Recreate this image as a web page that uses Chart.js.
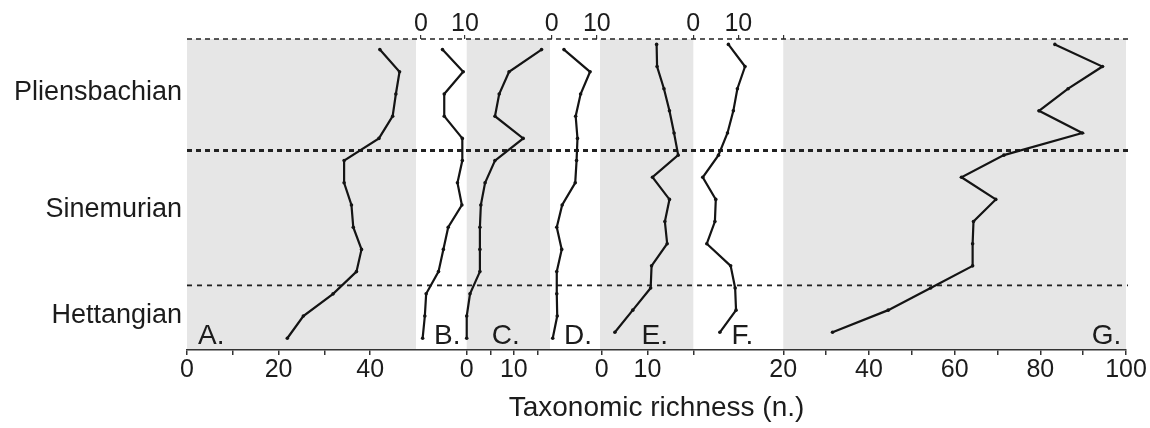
<!DOCTYPE html>
<html>
<head>
<meta charset="utf-8">
<script src="https://cdn.jsdelivr.net/npm/chart.js@4.4.1/dist/chart.umd.min.js"></script>
<style>
  html, body { margin: 0; padding: 0; background: #ffffff; }
  canvas { display: block; }
</style>
</head>
<body>
<canvas id="chart" width="1150" height="428"></canvas>
<script>
// Stages, youngest at the top of the column
const stages = ['Pliensbachian', 'Sinemurian', 'Hettangian'];

// Sampling levels, counted from the top of the section
const levels = [0, 1, 2, 3, 4, 5, 6, 7, 8, 9, 10, 11, 12, 13];

// Taxonomic richness per level for each group
const richnessA = [42.1, 46.4, 45.6, 44.9, 41.9, 34.3, 34.3, 35.9, 36.3, 38.1, 37.0, 31.9, 25.4, 21.9];
const richnessB = [4.9, 9.6, 5.3, 5.3, 9.4, 9.4, 8.3, 9.3, 6.2, 5.1, 4.0, 1.2, 0.9, 0.4];
const richnessC = [15.9, 9.0, 6.9, 6.0, 12.0, 6.0, 3.9, 3.0, 2.8, 2.8, 2.8, 0.7, 0.0, 0.0];
const richnessD = [2.7, 8.5, 6.4, 5.3, 5.7, 5.5, 5.2, 2.3, 1.1, 2.2, 1.1, 1.1, 1.2, 0.2];
const richnessE = [12.0, 12.1, 13.6, 14.8, 15.8, 16.7, 11.1, 14.8, 13.8, 14.3, 10.9, 10.7, 6.8, 2.9];
const richnessF = [7.8, 11.5, 9.8, 8.9, 7.6, 5.6, 2.1, 5.0, 4.8, 3.0, 8.3, 9.3, 9.5, 5.9];
const richnessG = [83.4, 94.5, 86.5, 79.7, 89.8, 71.5, 61.6, 69.6, 64.4, 64.2, 64.2, 54.4, 44.5, 31.5];

// Axis ticks of each panel and the text printed under / over them
const ticksA = [0, 10, 20, 30, 40];
const tickTextA = ['0', '', '20', '', '40'];
const ticksB = [0, 10];
const tickTextB = ['0', '10'];
const ticksC = [0, 5, 10, 15];
const tickTextC = ['0', '', '10', ''];
const ticksD = [0, 10];
const tickTextD = ['0', '10'];
const ticksE = [0, 10, 20];
const tickTextE = ['0', '10', ''];
const ticksF = [0, 10, 20];
const tickTextF = ['0', '10', ''];
const ticksG = [20, 30, 40, 50, 60, 70, 80, 90, 100];
const tickTextG = ['20', '', '40', '', '60', '', '80', '', '100'];

const panelLetters = ['A.', 'B.', 'C.', 'D.', 'E.', 'F.', 'G.'];

// Panel strips: share of the plot width they occupy and the value range each one shows
const panels = [
  { key: 'A', values: richnessA, from: 0.0000, to: 0.2439, min: 0,     max: 50,   shaded: true,  yAxis: 'y',  side: 'bottom', ticks: ticksA, text: tickTextA, letterAt: 2.4 },
  { key: 'B', values: richnessB, from: 0.2439, to: 0.2979, min: -1.1,  max: 10.4, shaded: false, yAxis: 'y',  side: 'top',    ticks: ticksB, text: tickTextB, letterAt: 3.0 },
  { key: 'C', values: richnessC, from: 0.2979, to: 0.3866, min: 0,     max: 17.7, shaded: true,  yAxis: 'y',  side: 'bottom', ticks: ticksC, text: tickTextC, letterAt: 5.3 },
  { key: 'D', values: richnessD, from: 0.3866, to: 0.4398, min: -0.4,  max: 10.7, shaded: false, yAxis: 'y',  side: 'top',    ticks: ticksD, text: tickTextD, letterAt: 2.7 },
  { key: 'E', values: richnessE, from: 0.4398, to: 0.5392, min: -0.35, max: 20,   shaded: true,  yAxis: 'y2', side: 'bottom', ticks: ticksE, text: tickTextE, letterAt: 8.7 },
  { key: 'F', values: richnessF, from: 0.5392, to: 0.6350, min: 0,     max: 20,   shaded: false, yAxis: 'y2', side: 'top',    ticks: ticksF, text: tickTextF, letterAt: 8.5 },
  { key: 'G', values: richnessG, from: 0.6350, to: 1.0000, min: 20,    max: 100,  shaded: true,  yAxis: 'y2', side: 'bottom', ticks: ticksG, text: tickTextG, letterAt: 92 }
];

const FONT = "'Liberation Sans', Arial, Helvetica, sans-serif";
const INK = '#1c1c1c';
const SHADE = '#e6e6e6';

// Position of a panel value along the shared 0..1 strip axis
function share(p, v) {
  return p.from + (v - p.min) / (p.max - p.min) * (p.to - p.from);
}

// Collect the tick marks of all panels onto the shared bottom / top axes
const bottomTicks = [], bottomText = [], topTicks = [], topText = [];
panels.forEach(p => {
  p.ticks.forEach((v, i) => {
    if (p.side === 'bottom') { bottomTicks.push(share(p, v)); bottomText.push(p.text[i]); }
    else { topTicks.push(share(p, v)); topText.push(p.text[i]); }
  });
});

// One hidden x scale per panel, stretched so the panel's range lands in its strip
const scales = {};
panels.forEach(p => {
  const span = (p.max - p.min) / (p.to - p.from);
  const lo = p.min - p.from * span;
  scales['x' + p.key] = { type: 'linear', axis: 'x', display: false, min: lo, max: lo + span };
});

scales.xBottom = {
  type: 'linear', axis: 'x', position: 'bottom', min: 0, max: 1,
  afterBuildTicks: s => { s.ticks = bottomTicks.map(v => ({ value: v })); },
  afterFit: s => { s.height = 78; },
  ticks: {
    autoSkip: false, maxRotation: 0, minRotation: 0, padding: 0, color: INK,
    font: { family: FONT, size: 25 },
    callback: (v, i) => bottomText[i]
  },
  grid: { display: true, drawOnChartArea: false, drawTicks: true, tickLength: 5, color: '#333', lineWidth: 1.5 },
  border: { display: true, color: '#333', width: 1.5 },
  title: {
    display: true, text: 'Taxonomic richness (n.)', color: INK,
    font: { family: FONT, size: 28 }, padding: { top: 0, bottom: 3 }
  }
};

scales.xTop = {
  type: 'linear', axis: 'x', position: 'top', min: 0, max: 1,
  afterBuildTicks: s => { s.ticks = topTicks.map(v => ({ value: v })); },
  afterFit: s => { s.height = 39; },
  ticks: {
    autoSkip: false, maxRotation: 0, minRotation: 0, padding: -2, color: INK,
    font: { family: FONT, size: 25, lineHeight: 1 },
    callback: (v, i) => topText[i]
  },
  grid: { display: true, drawOnChartArea: false, drawTicks: true, tickLength: 4, color: '#333', lineWidth: 1.2 },
  border: { display: false }
};

// Stratigraphic column: level 0 at the top
const stageLabelAt = [1.93, 7.2, 12.0];
scales.y = {
  type: 'linear', axis: 'y', position: 'left', reverse: true, min: -0.477, max: 13.53,
  afterBuildTicks: s => { s.ticks = stageLabelAt.map(v => ({ value: v })); },
  afterFit: s => { s.width = 187; },
  ticks: {
    autoSkip: false, padding: 5, color: INK,
    font: { family: FONT, size: 27 },
    callback: (v, i) => stages[i]
  },
  grid: { display: false, drawTicks: false },
  border: { display: false }
};
// Levels of groups E-G sit slightly higher in the column
scales.y2 = { type: 'linear', axis: 'y', display: false, reverse: true, min: -0.244, max: 13.8 };

// Stage boundaries on the level axis, with their line styles
const stageBreaks = [4.55, 10.62];
const breakStyles = [
  { width: 3.0, dash: [5, 4] },
  { width: 1.8, dash: [5, 5] }
];
const topLineStyle = { width: 1.6, dash: [5, 4] };
const letterLevel = 13.28;

const stripPlugin = {
  id: 'strips',
  beforeDraw(chart) {
    const { ctx, chartArea: a } = chart;
    ctx.save();
    ctx.fillStyle = '#ffffff';
    ctx.fillRect(0, 0, chart.width, chart.height);
    ctx.fillStyle = SHADE;
    panels.forEach(p => {
      if (!p.shaded) return;
      const sx = chart.scales['x' + p.key];
      const x0 = sx.getPixelForValue(p.min);
      const x1 = sx.getPixelForValue(p.max);
      ctx.fillRect(x0, a.top, x1 - x0, a.bottom - a.top);
    });
    ctx.restore();
  },
  beforeDatasetsDraw(chart) {
    const { ctx, chartArea: a } = chart;
    const ys = chart.scales.y;
    const line = (y, st) => {
      ctx.beginPath();
      ctx.lineWidth = st.width;
      ctx.setLineDash(st.dash);
      ctx.strokeStyle = '#222';
      ctx.moveTo(a.left, y);
      ctx.lineTo(a.right + 2, y);
      ctx.stroke();
    };
    ctx.save();
    line(a.top, topLineStyle);
    stageBreaks.forEach((v, i) => line(ys.getPixelForValue(v), breakStyles[i]));
    ctx.restore();
  },
  afterDatasetsDraw(chart) {
    const { ctx } = chart;
    const y = chart.scales.y.getPixelForValue(letterLevel);
    ctx.save();
    ctx.fillStyle = INK;
    ctx.font = "28px " + FONT;
    ctx.textAlign = 'left';
    ctx.textBaseline = 'alphabetic';
    panels.forEach((p, i) => {
      const x = chart.scales['x' + p.key].getPixelForValue(p.letterAt);
      ctx.fillText(panelLetters[i], x, y);
    });
    ctx.restore();
  }
};

const datasets = panels.map(p => ({
  label: p.key,
  data: p.values.map((v, i) => ({ x: v, y: levels[i] })),
  xAxisID: 'x' + p.key,
  yAxisID: p.yAxis,
  showLine: true,
  borderColor: '#141414',
  borderWidth: 2.2,
  pointRadius: 1.8,
  pointBackgroundColor: '#141414',
  pointBorderWidth: 0,
  tension: 0,
  clip: false
}));

new Chart(document.getElementById('chart'), {
  type: 'scatter',
  data: { datasets },
  options: {
    responsive: false,
    devicePixelRatio: 1,
    animation: false,
    events: [],
    layout: { padding: { left: 0, right: 24, top: 0, bottom: 0 } },
    scales,
    plugins: { legend: { display: false }, tooltip: { enabled: false } }
  },
  plugins: [stripPlugin]
});
</script>
</body>
</html>
